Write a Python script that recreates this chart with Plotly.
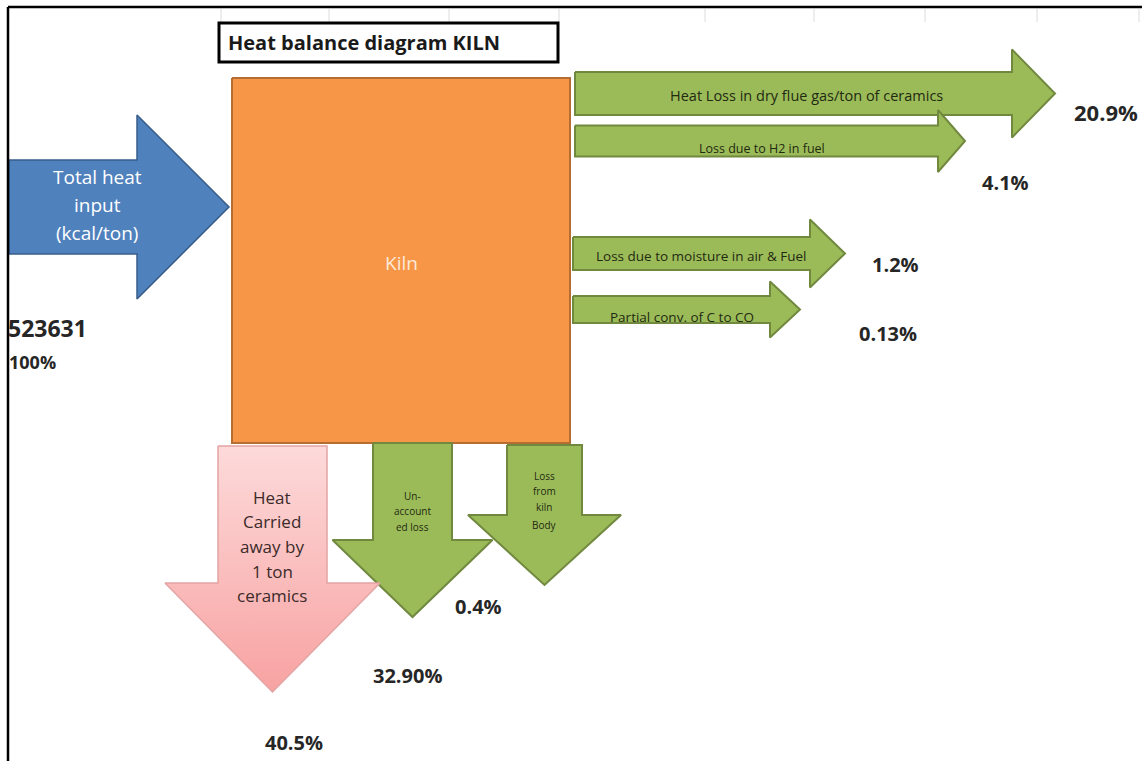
import plotly.graph_objects as go

# ---------------- data ----------------
title_text = "Heat balance diagram KILN"
kiln_text = "Kiln"

input_label = ["Total heat", "input", "(kcal/ton)"]
input_kcal = 523631
input_share = "100%"

side_labels = [
    "Heat Loss in dry flue gas/ton of ceramics",
    "Loss due to H2 in fuel",
    "Loss due to moisture in air & Fuel",
    "Partial conv. of C to CO",
]
side_shares = ["20.9%", "4.1%", "1.2%", "0.13%"]

down_labels = [
    ["Heat", "Carried", "away by", "1 ton", "ceramics"],
    ["Un-", "account", "ed loss"],
    ["Loss", "from", "kiln", "Body"],
]
down_shares = ["40.5%", "32.90%", "0.4%"]

# ---------------- layout geometry (page pixels) ----------------
W, H = 1142, 761
FONT = "Open Sans"
TXT = "#262626"

# right arrows: (x_start, y_center, shaft_half, head_x, head_half, tip_x)
side_geom = [
    (575, 93.5, 21.5, 1012, 44, 1055),
    (575, 141.0, 15.5, 938, 31, 965),
    (573, 253.5, 16.5, 810, 34, 845),
    (573, 309.5, 13.5, 770, 28, 800),
]
side_text_pos = [(806, 95, 14.5), (762, 148, 12.5), (701, 256, 13.5), (682, 317, 13.5)]
side_share_pos = [(1106, 112, 22), (1005, 182, 20), (895, 264, 20), (888, 333, 20)]

# down arrows: (x_center, y_top, shaft_half, head_y, head_half, tip_y)
down_geom = [
    (272.5, 446, 54.5, 583, 107.5, 692),
    (412.5, 443, 39.5, 540, 80, 617),
    (544.5, 445, 37.5, 515, 76.5, 585),
]
down_text_pos = [
    (272, [497, 521, 546, 571, 595], 17),
    (412, [496, 511, 527], 10),
    (544, [476, 491, 507, 525], 10),
]
down_share_pos = [(294, 742), (407, 675), (478, 606)]

input_geom = (9, 207, 47, 137, 92, 229)
kiln_box = (232, 78, 570, 443)
title_box = (219, 23, 558, 62)
grid_ticks = [221, 329, 449, 559, 705, 814, 925, 1037, 1139]

GREEN, GREEN_EDGE = "#9BBB59", "#71893F"


def right_arrow(x0, yc, sh, hx, hh, tip):
    xs = [x0, hx, hx, tip, hx, hx, x0, x0]
    ys = [yc - sh, yc - sh, yc - hh, yc, yc + hh, yc + sh, yc + sh, yc - sh]
    return xs, ys


def down_arrow(xc, y0, sh, hy, hh, tip):
    xs = [xc - sh, xc + sh, xc + sh, xc + hh, xc, xc - hh, xc - sh, xc - sh]
    ys = [y0, y0, hy, hy, tip, hy, hy, y0]
    return xs, ys


def polygon(xs, ys, fill, edge, width=1.5, **kw):
    return go.Scatter(x=xs, y=ys, mode="lines", fill="toself", fillcolor=fill,
                      line=dict(color=edge, width=width), hoverinfo="skip",
                      showlegend=False, **kw)


fig = go.Figure()

# kiln body
x0, y0, x1, y1 = kiln_box
fig.add_trace(polygon([x0, x1, x1, x0, x0], [y0, y0, y1, y1, y0], "#F79646", "#B66D31", 2))

# heat input arrow
fig.add_trace(polygon(*right_arrow(*input_geom), "#4F81BD", "#385D8A", 1.5))

# side losses
for g in side_geom:
    fig.add_trace(polygon(*right_arrow(*g), GREEN, GREEN_EDGE, 2))

# bottom losses (green ones first, the product arrow on top)
for g in down_geom[1:]:
    fig.add_trace(polygon(*down_arrow(*g), GREEN, GREEN_EDGE, 2))
xs, ys = down_arrow(*down_geom[0])
fig.add_trace(go.Scatter(
    x=xs, y=ys, mode="lines", fill="toself",
    fillgradient=dict(type="vertical", start=down_geom[0][1], stop=down_geom[0][5],
                      colorscale=[[0, "#FDDADA"], [1, "#F8A2A2"]]),
    line=dict(color="#E3A4A4", width=1.5), hoverinfo="skip", showlegend=False))

shapes = []
# sheet frame
shapes.append(dict(type="line", x0=8, x1=W, y0=7, y1=7, line=dict(color="black", width=2.5)))
shapes.append(dict(type="line", x0=8, x1=8, y0=7, y1=H, line=dict(color="black", width=2.5)))
for gx in grid_ticks:
    shapes.append(dict(type="line", x0=gx, x1=gx, y0=9, y1=22, layer="below",
                       line=dict(color="#DCDCDC", width=1)))
# title box
bx0, by0, bx1, by1 = title_box
shapes.append(dict(type="rect", x0=bx0, x1=bx1, y0=by0, y1=by1,
                   line=dict(color="black", width=3), fillcolor="white"))

ann = []


def label(x, y, text, size, color=TXT, bold=False, xanchor="center"):
    ann.append(dict(x=x, y=y, text=f"<b>{text}</b>" if bold else text, showarrow=False,
                    xanchor=xanchor, yanchor="middle",
                    font=dict(family=FONT, size=size, color=color)))


label(bx0 + 7, (by0 + by1) / 2, title_text, 20, "#1a1a1a", bold=True, xanchor="left")
label((x0 + x1) / 2, 263, kiln_text, 19, "#FDE9D9")

for line, yy in zip(input_label, [177, 205, 233]):
    label(97, yy, line, 19, "white")
label(6, 328, f"{input_kcal}", 23, bold=True, xanchor="left")
label(7, 362, input_share, 18, bold=True, xanchor="left")

for text, (tx, ty, ts) in zip(side_labels, side_text_pos):
    label(tx, ty, text, ts, "#1F2A10")
for text, (sx, sy, ss) in zip(side_shares, side_share_pos):
    label(sx, sy, text, ss, bold=True)

for lines, (tx, tys, ts), i in zip(down_labels, down_text_pos, range(3)):
    for line, yy in zip(lines, tys):
        label(tx, yy, line, ts, "#3A2A2A" if i == 0 else "#1F2A10")
for text, (sx, sy) in zip(down_shares, down_share_pos):
    label(sx, sy, text, 20, bold=True)

fig.update_layout(
    width=W, height=H, margin=dict(l=0, r=0, t=0, b=0),
    paper_bgcolor="white", plot_bgcolor="white",
    font=dict(family=FONT),
    xaxis=dict(range=[0, W], visible=False, fixedrange=True),
    yaxis=dict(range=[H, 0], visible=False, fixedrange=True),
    shapes=shapes, annotations=ann, showlegend=False,
)

fig.write_html("out.html", config={"displayModeBar": False})
